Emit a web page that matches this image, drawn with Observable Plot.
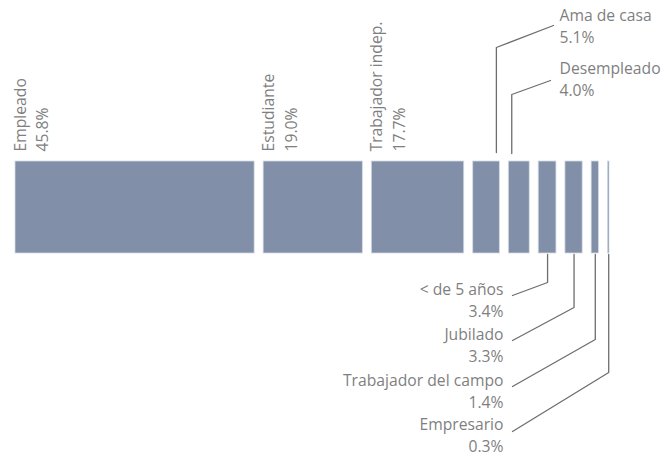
<!DOCTYPE html>
<html>
<head>
<meta charset="utf-8">
<script src="https://cdn.jsdelivr.net/npm/d3@7"></script>
<script src="https://cdn.jsdelivr.net/npm/@observablehq/plot@0.6"></script>
<style>
  html, body { margin: 0; padding: 0; background: #ffffff; }
  #chart svg { display: block; }
</style>
</head>
<body>
<div id="chart"></div>
<script>
// ---- Data ----
const categories = ["Empleado", "Estudiante", "Trabajador indep.", "Ama de casa", "Desempleado",
                    "< de 5 años", "Jubilado", "Trabajador del campo", "Empresario"];
const shares = [45.8, 19.0, 17.7, 5.1, 4.0, 3.4, 3.3, 1.4, 0.3];
const shareLabels = ["45.8%", "19.0%", "17.7%", "5.1%", "4.0%", "3.4%", "3.3%", "1.4%", "0.3%"];

// ---- Layout ----
const W = 665, H = 456, ML = 15, MR = 56;
const GAP = 1.72;                 // gap between bars, in percentage units
const BAR_TOP = 161, BAR_BOTTOM = 253;
const FONT = 15.7, LH = 1.45, SHIFT = -6;
const TEXT = "#7f7f7f", LINE = "#6e6e6e", BAR = "#818fa9";

let cum = 0;
const rows = categories.map((c, i) => {
  const r = {c, v: shares[i], label: shareLabels[i], x1: cum + i * GAP, x2: cum + i * GAP + shares[i], i};
  cum += shares[i];
  return r;
});
const total = 100 + (categories.length - 1) * GAP;
const xs = Plot.scale({x: {domain: [0, total], range: [ML, W - MR]}});

// Rotated labels above the three big bars
const rotated = rows.slice(0, 3);

// Callout labels: side, anchor fraction on bar, elbow y, end (px), text cap top
const callouts = [
  {c: "Ama de casa", side: "top", frac: 0.87, start: 152, elbow: 47, endX: 553, endY: 25, textX: 559, textY: 10},
  {c: "Desempleado", side: "top", frac: 0.14, start: 153, elbow: 94, endX: 550, endY: 80, textX: 559, textY: 63},
  {c: "< de 5 años", side: "bottom", frac: 0.5, start: 254, elbow: 282, endX: 512, endY: 295, textX: 503, textY: 284},
  {c: "Jubilado", side: "bottom", frac: 0.5, start: 254, elbow: 307, endX: 512, endY: 340, textX: 503, textY: 329},
  {c: "Trabajador del campo", side: "bottom", frac: 0.5, start: 254, elbow: 339, endX: 512, endY: 386, textX: 503, textY: 375},
  {c: "Empresario", side: "bottom", frac: 0.5, start: 254, elbow: 372, endX: 512, endY: 431, textX: 503, textY: 419}
].map(o => ({...o, row: rows.find(r => r.c === o.c)}));

const leaderPts = callouts.flatMap(o => {
  const ax = o.row.x1 + o.frac * o.row.v;
  return [
    {k: o.c, x: ax, y: o.start},
    {k: o.c, x: ax, y: o.elbow},
    {k: o.c, x: xs.invert(o.endX), y: o.endY}
  ];
});

const chart = Plot.plot({
  width: W,
  height: H,
  marginTop: 0, marginBottom: 0, marginLeft: ML, marginRight: MR,
  x: {domain: [0, total], axis: null},
  y: {type: "identity", axis: null},
  style: {fontFamily: "'Open Sans', sans-serif", background: "#ffffff", overflow: "visible"},
  marks: [
    Plot.rect(rows, {
      x1: "x1", x2: "x2",
      y1: () => BAR_TOP, y2: () => BAR_BOTTOM,
      fill: BAR, stroke: "#d5dae4", strokeWidth: 0.8
    }),
    Plot.text(rotated, {
      x: "x1", y: () => 151,
      text: d => `${d.c}\n${d.label}`,
      rotate: -90, textAnchor: "start", lineAnchor: "top",
      lineHeight: LH, fontSize: FONT, fill: TEXT, dx: SHIFT
    }),
    Plot.line(leaderPts, {x: "x", y: "y", z: "k", stroke: LINE, strokeWidth: 1.3, curve: "linear"}),
    Plot.text(callouts.filter(o => o.side === "top"), {
      x: d => xs.invert(d.textX), y: "textY",
      text: d => `${d.c}\n${d.row.label}`,
      textAnchor: "start", lineAnchor: "top",
      lineHeight: LH, fontSize: FONT, fill: TEXT, dy: SHIFT
    }),
    Plot.text(callouts.filter(o => o.side === "bottom"), {
      x: d => xs.invert(d.textX), y: "textY",
      text: d => `${d.c}\n${d.row.label}`,
      textAnchor: "end", lineAnchor: "top",
      lineHeight: LH, fontSize: FONT, fill: TEXT, dy: SHIFT
    })
  ]
});
document.getElementById("chart").appendChild(chart);
</script>
</body>
</html>
